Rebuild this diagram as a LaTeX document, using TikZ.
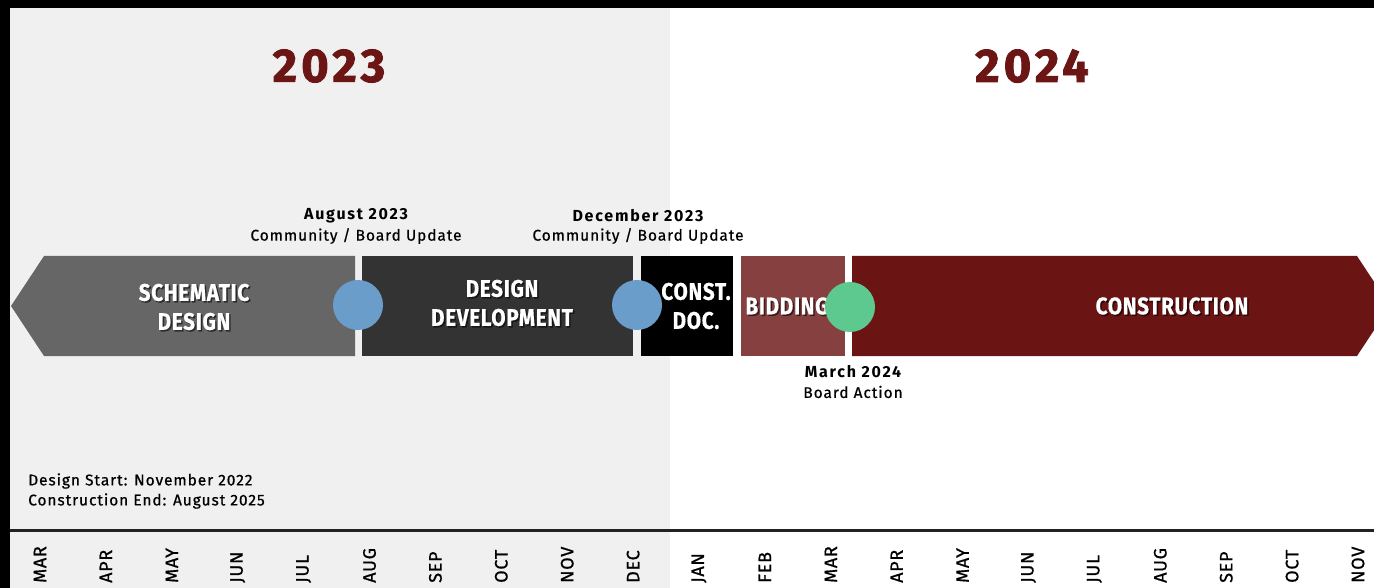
\documentclass[tikz,border=0pt]{standalone}
\usepackage{fontspec}
\setmainfont{Fira Sans}
\newfontfamily\yearfont{Fira Sans}[LetterSpace=9, FakeBold=1.8]
\newfontfamily\boxfont{Fira Sans}[FakeStretch=0.86, LetterSpace=3, FakeBold=0.6]
\newfontfamily\titlefont{Fira Sans}[LetterSpace=11]
\newfontfamily\subfont{Fira Sans}[LetterSpace=6, FakeBold=0.6]
\newfontfamily\monthfont{Fira Sans}[LetterSpace=4, FakeBold=0.8]
\definecolor{panelgray}{HTML}{F0F0F0}
\definecolor{sdgray}{HTML}{666666}
\definecolor{ddgray}{HTML}{333333}
\definecolor{bidred}{HTML}{864040}
\definecolor{conred}{HTML}{6A1414}
\definecolor{yearred}{HTML}{6B1515}
\definecolor{msblue}{HTML}{6B9DCB}
\definecolor{msgreen}{HTML}{5EC98F}
\definecolor{axisline}{HTML}{222222}
\begin{document}
\begin{tikzpicture}[x=1pt,y=-1pt,
  year/.style={text=yearred, font=\yearfont\bfseries\fontsize{47}{47}\selectfont, inner sep=0pt},
  boxtxt/.style={text=white, font=\boxfont\bfseries\fontsize{24}{29}\selectfont, align=center, inner sep=0pt},
  boxshadow/.style={text=black, text opacity=0.55, font=\boxfont\bfseries\fontsize{24}{29}\selectfont, align=center, inner sep=0pt},
  mstitle/.style={text=black, font=\titlefont\bfseries\fontsize{16}{16}\selectfont, inner sep=0pt},
  mssub/.style={text=black, font=\subfont\fontsize{15.5}{16}\selectfont, inner sep=0pt},
  note/.style={text=black, font=\subfont\fontsize{15.5}{20}\selectfont, inner sep=0pt, anchor=west},
  month/.style={text=black, font=\monthfont\fontsize{18}{18}\selectfont, inner sep=0pt, rotate=90, anchor=west},
  milestone/.style={circle, inner sep=0pt, minimum size=50pt},
]
\useasboundingbox (0,0) rectangle (1374,588);
% background
\fill[black] (0,0) rectangle (1374,588);
\fill[panelgray] (10,8) rectangle (670,588);
\fill[white] (670,8) rectangle (1374,588);
% axis
\draw[axisline, line width=3pt] (10,530) -- (1374,530);
% years
\node[year] (y2023) at (329,66) {2023};
\node[year] (y2024) at (1032,66) {2024};
% phases
\fill[sdgray] (11,306) -- (44,256) -- (355,256) -- (355,356) -- (44,356) -- cycle;
\fill[ddgray] (362,256) rectangle (633,356);
\fill[black] (641,256) rectangle (733,356);
\fill[bidred] (741,256) rectangle (845,356);
\fill[conred] (852,256) -- (1357,256) -- (1390,306) -- (1357,356) -- (852,356) -- cycle;
% phase labels
\node[boxshadow] (sd-sh) at (195.5,308.5) {SCHEMATIC\\DESIGN};
\node[boxtxt] (sd) at (194,307) {SCHEMATIC\\DESIGN};
\node[boxshadow] (dd-sh) at (503.5,304.5) {DESIGN\\DEVELOPMENT};
\node[boxtxt] (dd) at (502,303) {DESIGN\\DEVELOPMENT};
\node[boxshadow] (cd-sh) at (697.5,307.5) {CONST.\\DOC.};
\node[boxtxt] (cd) at (696,306) {CONST.\\DOC.};
\node[boxshadow] (bid-sh) at (788.5,307.5) {BIDDING};
\node[boxtxt] (bid) at (787,306) {BIDDING};
\node[boxshadow] (con-sh) at (1173.5,307.5) {CONSTRUCTION};
\node[boxtxt] (con) at (1172,306) {CONSTRUCTION};
% milestones
\node[milestone, fill=msblue] (m1) at (358,305) {};
\node[milestone, fill=msblue] (m2) at (637,305) {};
\node[milestone, fill=msgreen] (m3) at (850,307) {};
% milestone labels
\node[mstitle] (m1t) at (356,216) {August 2023};
\node[mssub] (m1s) at (356,236) {Community / Board Update};
\node[mstitle] (m2t) at (638,216) {December 2023};
\node[mssub] (m2s) at (638,236) {Community / Board Update};
\node[mstitle] (m3t) at (853,372) {March 2024};
\node[mssub] (m3s) at (853,392) {Board Action};
% notes
\node[note] (n1) at (28,481) {Design Start: November 2022};
\node[note] (n2) at (28,501) {Construction End: August 2025};
% months
\foreach \m [count=\i from 0] in {MAR,APR,MAY,JUN,JUL,AUG,SEP,OCT,NOV,DEC,JAN,FEB,MAR,APR,MAY,JUN,JUL,AUG,SEP,OCT,NOV}{
  \node[month] (mo\i) at ({40+65.9*\i},583) {\m};
}
\end{tikzpicture}
\end{document}
